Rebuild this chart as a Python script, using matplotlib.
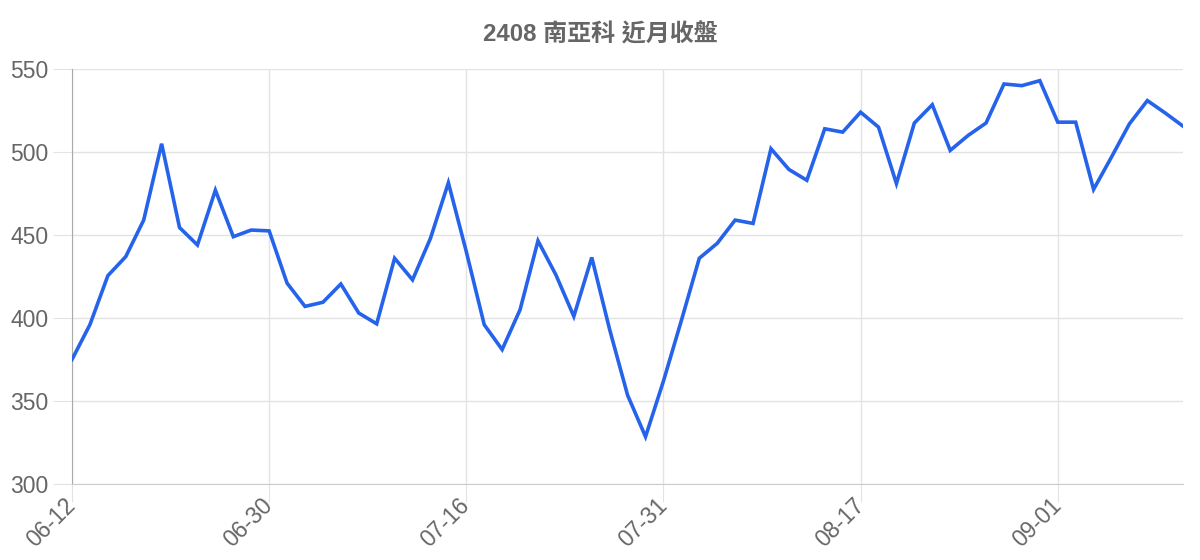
import matplotlib
matplotlib.use("Agg")
import matplotlib.pyplot as plt
import numpy as np

plt.rcParams['font.family'] = ['Liberation Sans', 'Noto Sans CJK TC', 'DejaVu Sans']

title = "2408 南亞科 近月收盤"

dates = ["06-12", "06-13", "06-16", "06-17", "06-18", "06-19", "06-20", "06-23", "06-24", "06-25", "06-27", "06-30",
         "07-02", "07-03", "07-04", "07-07", "07-08", "07-09", "07-10", "07-11", "07-14", "07-15", "07-16",
         "07-17", "07-18", "07-21", "07-22", "07-23", "07-24", "07-25", "07-28", "07-29", "07-30", "07-31",
         "08-01", "08-04", "08-05", "08-06", "08-07", "08-08", "08-11", "08-12", "08-14", "08-15", "08-17",
         "08-18", "08-19", "08-20", "08-21", "08-22", "08-25", "08-26", "08-27", "08-28", "08-29", "09-01",
         "09-02", "09-03", "09-04", "09-05", "09-08", "09-09", "09-10"]

close = [375, 396, 425.5, 437, 459, 505, 454.5, 444, 477, 449, 453, 452.5,
         421, 407, 409.5, 420.5, 403, 396.5, 436, 423, 448, 481.5, 440,
         396, 381, 405, 446.5, 426, 401, 436.5, 393, 353.5, 328.5, 362,
         398.5, 436, 445, 459, 457, 502, 489.5, 483, 514, 512, 524,
         515, 481, 517.5, 528.5, 501, 510, 517.5, 541, 540, 543, 518,
         518, 477.5, 497, 517, 531, 523.5, 515.5]

tick_every = 11

fig = plt.figure(figsize=(12, 5.6), dpi=100)
ax = fig.add_axes([0.06, 0.1357, 0.926, 0.741])

x = np.arange(len(close))
ax.plot(x, close, color='#2563eb', linewidth=2.6, solid_joinstyle='miter', zorder=3)

ax.set_xlim(0, len(close) - 1)
ax.set_ylim(300, 550)
ax.set_yticks(np.arange(300, 551, 50))
ticks = x[::tick_every]
ax.set_xticks(ticks)
ax.set_xticklabels([dates[i] for i in ticks], rotation=45, ha='right', va='center',
                   rotation_mode='anchor')

ax.grid(True, color='#e3e3e3', linewidth=1.0)
ax.set_axisbelow(True)
for s in ['top', 'right']:
    ax.spines[s].set_visible(False)
ax.spines['left'].set_color('#aaaaaa')
ax.spines['bottom'].set_color('#cccccc')

ax.tick_params(axis='y', length=14, color='#e3e3e3', labelsize=16.5, labelcolor='#666666', pad=3)
ax.tick_params(axis='x', length=13, color='#e3e3e3', labelsize=16.5, labelcolor='#666666', pad=0)

fig.text(0.5, 0.9375, title, fontsize=17.3, fontweight='bold', color='#666666',
         ha='center', va='center')

fig.savefig('out.png', dpi=100)
